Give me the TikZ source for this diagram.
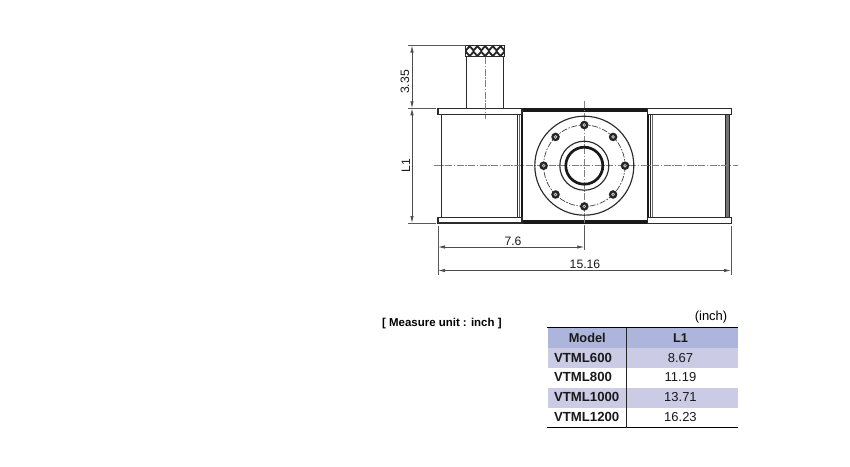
\documentclass[tikz,border=0pt]{standalone}
\usepackage{fontspec}
\setmainfont{Liberation Sans}
\usetikzlibrary{matrix,positioning,calc,arrows.meta}
\definecolor{hdrblue}{HTML}{AEB5DC}
\definecolor{rowblue}{HTML}{CBCBE6}
\definecolor{inkgray}{HTML}{2B2B2B}
\tikzset{
  outline/.style={draw=inkgray, line width=1.15pt},
  heavy/.style={draw=black!90, line width=2.2pt},
  flange/.style={draw=inkgray, line width=1.1pt, fill=white},
  centerline/.style={draw=black!50, line width=0.9pt, dash pattern=on 7pt off 1.5pt on 1.5pt off 1.5pt},
  boltline/.style={draw=black!75, line width=0.7pt, dash pattern=on 6pt off 1.5pt on 1.5pt off 1.5pt},
  extline/.style={draw=black!65, line width=0.75pt},
  dimline/.style={draw=black!70, line width=0.75pt, {Latex[length=7pt,width=3.4pt]}-{Latex[length=7pt,width=3.4pt]}},
  dimlabel/.style={font=\fontsize{12.2}{13}\selectfont, text=black!90, inner sep=0pt},
}
\begin{document}
\begin{tikzpicture}[x=1pt,y=-1pt]
  \useasboundingbox (0,0) rectangle (850,466);
  % dimension points
  \coordinate (knobtop) at (412,45.5);
  \coordinate (flangetop) at (412,108.3);
  \coordinate (flangebot) at (412,223);
  \coordinate (wleft) at (438,247);
  \coordinate (wmid) at (584.3,247);
  \coordinate (tleft) at (438,270.5);
  \coordinate (tright) at (731,270.5);
  \coordinate (hub) at (584.3,165.7);
  % knob
  \draw[outline] (466.7,56.7) rectangle (503.3,108.3);
  \begin{scope}
    \clip (465.7,45.5) rectangle (504.3,56.7);
    \fill[black!85] (465.7,45.5) rectangle (504.3,56.7);
    \foreach \xx in {0,1,...,7}{
      \fill[white] ($(462+7.7*\xx,51.1)+(0,-3.3)$) -- ++(3.0,3.3) -- ++(-3.0,3.3) -- ++(-3.0,-3.3) -- cycle;
      \fill[white] ($(465.85+7.7*\xx,45.5)+(0,-3.3)$) -- ++(3.0,3.3) -- ++(-3.0,3.3) -- ++(-3.0,-3.3) -- cycle;
      \fill[white] ($(465.85+7.7*\xx,56.7)+(0,-3.3)$) -- ++(3.0,3.3) -- ++(-3.0,3.3) -- ++(-3.0,-3.3) -- cycle;
    }
  \end{scope}
  \draw[outline] (465.7,45.5) rectangle (504.3,56.7);
  % left and right bodies
  \draw[outline] (441.7,114) -- (441.7,217.7);
  \draw[outline] (517.5,114) -- (517.5,217.7);
  \draw[line width=0.9pt, draw=black!60] (519.5,114) -- (519.5,217.7);
  \draw[outline] (650.2,114) -- (650.2,217.7);
  \draw[line width=0.9pt, draw=black!60] (652.5,114) -- (652.5,217.7);
  \fill[black!55] (725,114) rectangle (729,217.7);
  \draw[draw=black!85, line width=0.6pt] (725,114) -- (725,217.7) (729,114) -- (729,217.7);
  % centre block
  \fill[black!90] (521.5,108.3) rectangle (648,112);
  \fill[black!90] (521.5,220) rectangle (648,224);
  \draw[heavy] (521.7,108.3) -- (521.7,224);
  \draw[heavy] (647.8,108.3) -- (647.8,224);
  % flanges
  \draw[flange] (438,108.5) rectangle (522,114.2);
  \draw[flange] (438,217.7) rectangle (522,223);
  \draw[flange] (647.7,108.5) rectangle (731.2,114.2);
  \draw[flange] (647.7,217.7) rectangle (731.2,223.5);
  % centre lines
  \draw[centerline] (485,57) -- (485,118.5);
  \draw[centerline] (433.5,165.7) -- (737.5,165.7);
  \draw[centerline] (584.3,101) -- (584.3,226);
  % front face
  \draw[outline] (hub) circle (49.5);
  \draw[boltline] (hub) circle (40.7);
  \draw[outline] (hub) circle (24.5);
  \draw[draw=black!90, line width=2.7pt] (hub) circle (18.5);
  \foreach \ang in {0,45,...,315}{
    \fill[black!85] ($(hub)+(\ang:40.7)$) circle (4.3);
    \fill[black!20] ($(hub)+(\ang:40.7)$) circle (1.9);
    \fill[black!70] ($(hub)+(\ang:40.7)$) circle (0.7);
  }
  % dimensions
  \draw[extline] (408,45.5) -- (465.7,45.5);
  \draw[extline] (408,108.3) -- (436,108.3);
  \draw[extline] (408,223) -- (436,223);
  \draw[extline] (438,226) -- (438,274.5);
  \draw[extline] (731,226) -- (731,274.5);
  \draw[extline] (584.3,226) -- (584.3,250);
  \draw[dimline] (knobtop) -- (flangetop);
  \draw[dimline] (flangetop) -- (flangebot);
  \draw[dimline] (wleft) -- (wmid);
  \draw[dimline] (tleft) -- (tright);
  \node[dimlabel, rotate=90] (depthlbl) at (405,82) {3.35};
  \node[dimlabel, rotate=90] (lonelbl) at (406,165.5) {L1};
  \node[dimlabel] (halflbl) at (513,241.5) {7.6};
  \node[dimlabel] (fulllbl) at (585,264.5) {15.16};
  % table
  \node[anchor=west, inner sep=0pt, font=\fontsize{11.45}{13}\selectfont\bfseries] (unitnote) at (382,323.5) {[ Measure unit : inch ]};
  \node[anchor=east, inner sep=0pt, font=\fontsize{13}{15}\selectfont] (inchlbl) at (727.5,317) {(inch)};
  \matrix(spec)[matrix of nodes, anchor=north west, inner sep=0pt,
    row sep=0pt, column sep=0pt,
    nodes={inner sep=0pt, minimum height=19.9pt, text height=9.5pt, text depth=1pt,
      font=\fontsize{13}{15}\selectfont, text=black!90},
    column 1/.style={nodes={minimum width=79.5pt, text width=66.5pt, align=left, font=\fontsize{13.2}{15}\selectfont\bfseries}},
    column 2/.style={nodes={minimum width=110.5pt, align=center}},
    row 1/.style={nodes={fill=hdrblue}},
    row 2/.style={nodes={fill=rowblue}},
    row 4/.style={nodes={fill=rowblue}}]
    at (547.3,327.7)
  {
    |[align=center, font=\fontsize{12.8}{15}\selectfont\bfseries]| Model & |[font=\fontsize{12.8}{15}\selectfont\bfseries]| L1 \\
    VTML600 & 8.67 \\
    VTML800 & 11.19 \\
    VTML1000 & 13.71 \\
    VTML1200 & 16.23 \\
  };
  \draw[draw=black, line width=1.5pt] (spec.north west) -- (spec.north east);
  \draw[draw=black, line width=1.5pt] (spec.south west) -- (spec.south east);
  \draw[draw=black!85, line width=0.8pt] (spec-1-2.north west) -- (spec-5-2.south west);
\end{tikzpicture}
\end{document}
